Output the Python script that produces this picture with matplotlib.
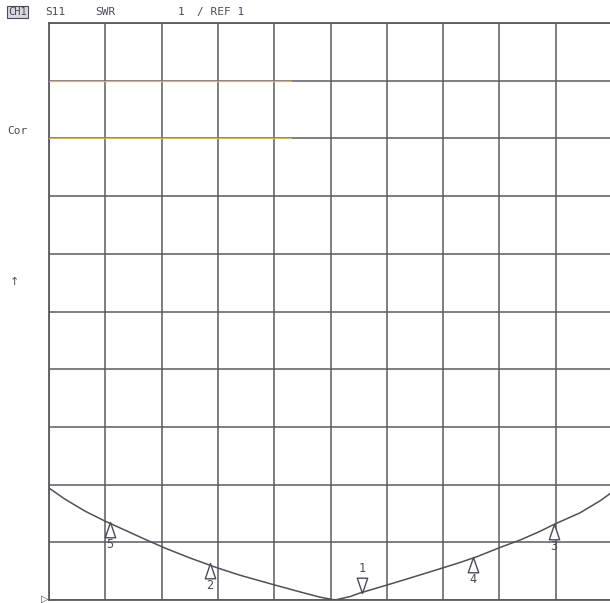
import numpy as np
import matplotlib.pyplot as plt
from matplotlib.path import Path

# trace, x in grid divisions (0..10), y in SWR units
trace_x = [0.0, 0.28, 0.64, 0.99, 1.35, 1.71, 2.06, 2.50, 2.98, 3.39, 4.01, 4.46, 4.81,
           5.08, 5.35, 5.52, 5.97, 6.41, 6.94, 7.30, 7.60, 8.01, 8.37, 8.72, 8.97, 9.43,
           9.79, 9.96, 10.0]
trace_y = [2.94, 2.75, 2.54, 2.37, 2.21, 2.05, 1.90, 1.73, 1.56, 1.43, 1.26, 1.14, 1.05,
           1.00, 1.06, 1.12, 1.25, 1.38, 1.54, 1.65, 1.75, 1.91, 2.04, 2.19, 2.31, 2.51,
           2.72, 2.84, 2.87]

marker_names = ["1", "2", "3", "4", "5"]
marker_x = [5.56, 2.86, 8.97, 7.53, 1.08]
marker_y = [1.12, 1.64, 2.32, 1.74, 2.35]

header_texts = ["S11", "SWR", "1", "/ REF 1"]
header_x = [45, 95, 178, 197]

ink = "#4a4a5a"
grid_c = "#5a5a60"

# triangle with its tip at the marker position
tri_up = Path([(0, 0), (-0.34, -1), (0.34, -1), (0, 0)],
              [Path.MOVETO, Path.LINETO, Path.LINETO, Path.CLOSEPOLY])
tri_down = Path([(0, 0), (-0.34, 1), (0.34, 1), (0, 0)],
                [Path.MOVETO, Path.LINETO, Path.LINETO, Path.CLOSEPOLY])

fig = plt.figure(figsize=(6.10, 6.03), dpi=100)
ax = fig.add_axes([49 / 610, 3 / 603, 563 / 610, 577 / 603])
ax.set_xlim(0, 10)
ax.set_ylim(1, 11)
ax.set_xticks(np.arange(0, 11))
ax.set_yticks(np.arange(1, 12))
ax.grid(True, color=grid_c, linewidth=1.1)
ax.tick_params(length=0, labelleft=False, labelbottom=False)
for s in ax.spines.values():
    s.set_color(grid_c)
    s.set_linewidth(1.3)

# faint yellow highlight on two grid lines
ax.plot([0, 4.3], [10.0, 10.0], color="#f0d060", lw=1.0, alpha=0.7, zorder=3)
ax.plot([0, 4.3], [9.0, 9.0], color="#f0d060", lw=1.0, alpha=0.7, zorder=3)

ax.plot(trace_x, trace_y, color="#505058", lw=1.1, zorder=4)

# markers: 1 points down with label above, the rest point up with label below
for name, mx, my in zip(marker_names, marker_x, marker_y):
    if name == "1":
        ax.plot(mx, my, marker=tri_down, ms=22, mfc="white", mec=ink, mew=1.0, zorder=5)
        ax.annotate(name, (mx, my), xytext=(0, 13), textcoords="offset points",
                    ha="center", va="bottom", fontsize=8.5, family="DejaVu Sans Mono", color=ink)
    else:
        ax.plot(mx, my, marker=tri_up, ms=22, mfc="white", mec=ink, mew=1.0, zorder=5)
        ax.annotate(name, (mx, my), xytext=(0, -11.5), textcoords="offset points",
                    ha="center", va="top", fontsize=8.5, family="DejaVu Sans Mono", color=ink)

# reference position pointer at the left edge
fig.text(41 / 610, 1 - 599 / 603, "▷", fontsize=7, color=ink, ha="left", va="center")

# header line
fig.text(8 / 610, 1 - 12 / 603, "CH1", fontsize=7.5, family="DejaVu Sans Mono", color=ink,
         ha="left", va="center",
         bbox=dict(boxstyle="square,pad=0.1", fc="#d8d8e0", ec=ink, lw=0.8))
for t, x in zip(header_texts, header_x):
    fig.text(x / 610, 1 - 12 / 603, t, fontsize=8, family="DejaVu Sans Mono", color=ink,
             ha="left", va="center")

fig.text(7 / 610, 1 - 131 / 603, "Cor", fontsize=8, family="DejaVu Sans Mono", color=ink,
         ha="left", va="center")
fig.text(14 / 610, 1 - 282 / 603, "↑", fontsize=8, family="DejaVu Sans", color=ink,
         ha="center", va="center")

fig.savefig("out.png", dpi=100)
